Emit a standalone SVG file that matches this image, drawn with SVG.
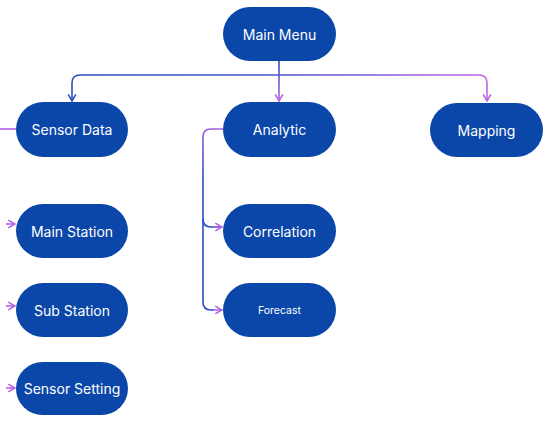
<svg xmlns="http://www.w3.org/2000/svg" width="550" height="422" viewBox="0 0 550 422">
<style>
.node rect{fill:#0a47a8}
.node text{fill:#fff;font-family:Inter,"Liberation Sans",sans-serif;font-size:14px;text-anchor:middle;dominant-baseline:central}
.c{fill:none;stroke-width:1.6}
</style>
<defs>
<linearGradient id="gh" gradientUnits="userSpaceOnUse" x1="72" y1="0" x2="490" y2="0">
<stop offset="0" stop-color="#2a4fc0"/><stop offset="0.5" stop-color="#4a55c8"/><stop offset="1" stop-color="#c365e8"/>
</linearGradient>
<linearGradient id="gv" gradientUnits="userSpaceOnUse" x1="0" y1="62" x2="0" y2="102">
<stop offset="0" stop-color="#2a4fc0"/><stop offset="1" stop-color="#b562e4"/>
</linearGradient>
<linearGradient id="ga" gradientUnits="userSpaceOnUse" x1="223" y1="129" x2="203" y2="180">
<stop offset="0" stop-color="#a65ee0"/><stop offset="1" stop-color="#2a4fc0"/>
</linearGradient>
<marker id="ab" viewBox="0 0 10 10" refX="9" refY="5" markerWidth="6" markerHeight="6" orient="auto"><path d="M2,1L9,5L2,9" fill="none" stroke="#2a4fc0" stroke-width="1.6"/></marker>
<marker id="ap" viewBox="0 0 10 10" refX="9" refY="5" markerWidth="6" markerHeight="6" orient="auto"><path d="M2,1L9,5L2,9" fill="none" stroke="#b562e4" stroke-width="1.6"/></marker>
</defs>
<g id="connectors">
<path class="c" stroke="url(#gh)" d="M279,75H80Q72,75 72,83V101" marker-end="url(#ab)"/>
<path class="c" stroke="url(#gh)" d="M279,75H479Q487,75 487,83V101" marker-end="url(#ap)"/>
<path class="c" stroke="url(#gv)" d="M279,61V101" marker-end="url(#ap)"/>
<path class="c" stroke="#b562e4" d="M0,129H16"/>
<path class="c" stroke="#b562e4" d="M6,224H15" marker-end="url(#ap)"/>
<path class="c" stroke="#b562e4" d="M6,306H15" marker-end="url(#ap)"/>
<path class="c" stroke="#b562e4" d="M6,388H15" marker-end="url(#ap)"/>
<path class="c" stroke="url(#ga)" d="M223,129H211Q203,129 203,137V219Q203,227 211,227H222"/>
<path class="c" stroke="#b562e4" d="M214,227H222" marker-end="url(#ap)"/>
<path class="c" stroke="#2a4fc0" d="M203,219V302Q203,310 211,310H214"/>
<path class="c" stroke="#b562e4" d="M213,310H222" marker-end="url(#ap)"/>
</g>
<g id="main-menu" class="node"><rect x="223" y="7" width="113" height="54" rx="27"/><text x="279.5" y="34">Main Menu</text></g>
<g id="sensor-data" class="node"><rect x="16" y="102" width="112" height="55" rx="27.5"/><text x="72" y="129.5">Sensor Data</text></g>
<g id="analytic" class="node"><rect x="223" y="102" width="113" height="55" rx="27.5"/><text x="279.5" y="129.5">Analytic</text></g>
<g id="mapping" class="node"><rect x="430" y="103" width="113" height="54" rx="27"/><text x="486.5" y="130.5">Mapping</text></g>
<g id="main-station" class="node"><rect x="16" y="204" width="112" height="54" rx="27"/><text x="72" y="231">Main Station</text></g>
<g id="sub-station" class="node"><rect x="16" y="283" width="112" height="54" rx="27"/><text x="72" y="310">Sub Station</text></g>
<g id="sensor-setting" class="node"><rect x="16" y="362" width="112" height="53" rx="26.5"/><text x="72" y="388.5">Sensor Setting</text></g>
<g id="correlation" class="node"><rect x="223" y="204" width="113" height="54" rx="27"/><text x="279.5" y="231">Correlation</text></g>
<g id="forecast" class="node"><rect x="223" y="283" width="113" height="54" rx="27"/><text x="279.5" y="310" style="font-size:10.5px">Forecast</text></g>
</svg>
